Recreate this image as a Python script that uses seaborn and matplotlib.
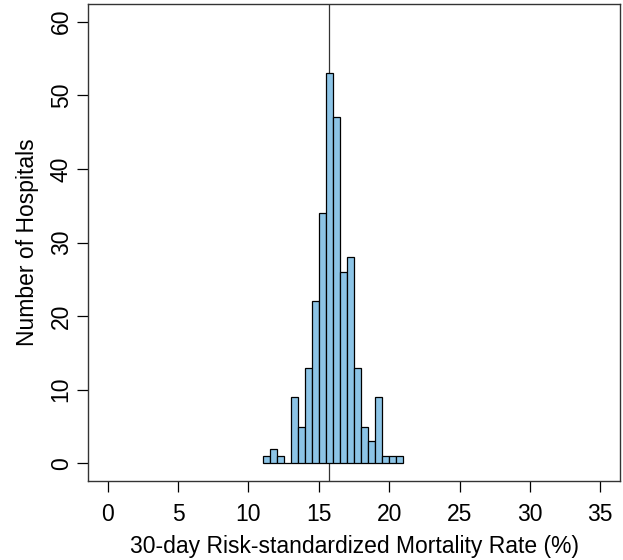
import numpy as np
import pandas as pd
import matplotlib
matplotlib.use("Agg")
import matplotlib.pyplot as plt
import seaborn as sns

# Data
bin_left = [11.0, 11.5, 12.0, 12.5, 13.0, 13.5, 14.0, 14.5, 15.0, 15.5,
            16.0, 16.5, 17.0, 17.5, 18.0, 18.5, 19.0, 19.5, 20.0, 20.5]
counts = [1, 2, 1, 0, 9, 5, 13, 22, 34, 53, 47, 26, 28, 13, 5, 3, 9, 1, 1, 1]
bin_width = 0.5
mean_rate = 15.7
x_ticks = [0, 5, 10, 15, 20, 25, 30, 35]
y_ticks = [0, 10, 20, 30, 40, 50, 60]

sns.set_style("white")
plt.rcParams['font.family'] = ['Liberation Sans', 'DejaVu Sans']
plt.rcParams['text.color'] = 'black'
plt.rcParams['axes.labelcolor'] = 'black'
plt.rcParams['xtick.color'] = 'black'
plt.rcParams['ytick.color'] = 'black'

df = pd.DataFrame({"rate": np.array(bin_left) + bin_width / 2, "n": counts})
edges = list(bin_left) + [bin_left[-1] + bin_width]

fig = plt.figure(figsize=(6.23, 5.6), dpi=100)
ax = fig.add_axes([88/623, (560-481)/560, (620-88)/623, (481-4)/560])

sns.histplot(data=df, x="rate", weights="n", bins=edges, ax=ax,
             color="#8cc4e6", edgecolor="black", linewidth=0.9, alpha=1)
ax.axvline(mean_rate, color="#333333", linewidth=0.9, zorder=0.5)

ax.set_xlim(-1.4, 36.4)
ax.set_ylim(-2.4, 62.4)
ax.set_xticks(x_ticks)
ax.set_yticks(y_ticks)
ax.tick_params(axis='both', direction='out', length=8, width=0.9, color='black',
               labelsize=16.5, bottom=True, left=True, labelcolor='black')
ax.tick_params(axis='x', pad=8)
ax.tick_params(axis='y', pad=3)
for lab in ax.get_yticklabels():
    lab.set_rotation(90)
    lab.set_va('center')
ax.set_xlabel("30-day Risk-standardized Mortality Rate (%)", fontsize=16.5, labelpad=6)
ax.set_ylabel("Number of Hospitals", fontsize=16.5, labelpad=8)
for s in ax.spines.values():
    s.set_color("#333333")
    s.set_linewidth(1.0)
    s.set_visible(True)

fig.savefig("out.png", dpi=100)
